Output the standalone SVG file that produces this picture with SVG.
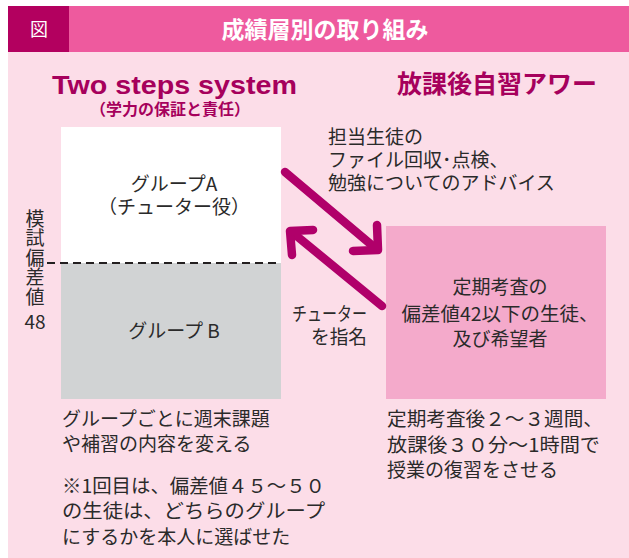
<svg xmlns="http://www.w3.org/2000/svg" width="629" height="558" viewBox="0 0 629 558">
<style>
.t{font-family:"Noto Sans CJK JP","Noto Sans",sans-serif;fill:#2a2a2a;font-size:19px}
.c{text-anchor:middle}
.h{font-family:"Noto Sans CJK JP","Noto Sans",sans-serif;font-weight:bold}
.arr{fill:none;stroke:#B0006A;stroke-width:8.5;stroke-linecap:round;stroke-linejoin:round}
</style>
<rect x="0" y="0" width="629" height="558" fill="#ffffff"/>
<g id="background">
<rect x="8" y="52" width="621" height="506" fill="#FCDDE8"/>
</g>
<g id="header">
<rect x="8" y="6" width="621" height="46" fill="#EE5A9E"/>
<rect x="8" y="6" width="61" height="46" fill="#B3005F"/>
<text x="39" y="36" class="c" font-family="Noto Sans CJK JP, sans-serif" font-size="18" fill="#ffffff">図</text>
<text x="325" y="38" class="h c" font-size="23" fill="#ffffff">成績層別の取り組み</text>
</g>
<g id="title-left">
<text x="52" y="94" font-family="Liberation Sans, Arial, sans-serif" font-weight="bold" font-size="26" fill="#A6005C" textLength="245" lengthAdjust="spacingAndGlyphs">Two steps system</text>
<text x="170" y="115" class="h c" font-size="16" fill="#A6005C">（学力の保証と責任）</text>
</g>
<g id="title-right">
<text x="497" y="93" class="h c" font-size="25" fill="#A6005C">放課後自習アワー</text>
</g>
<g id="group-box">
<rect x="61" y="127" width="220" height="136" fill="#ffffff"/>
<rect x="61" y="263" width="220" height="136" fill="#D1D3D4"/>
<text x="174" y="191" class="t c" font-size="18">グループA</text>
<text x="174" y="214" class="t c" font-size="18">（チューター役）</text>
<text x="174" y="338" class="t c" font-size="18">グループ B</text>
</g>
<g id="deviation-label">
<line x1="47" y1="263" x2="281" y2="263" stroke="#231F20" stroke-width="2" stroke-dasharray="8,5"/>
<text x="35" y="209" class="t" font-size="18" style="writing-mode:vertical-rl;letter-spacing:0.5px">模試偏差値</text>
<text x="35" y="329" class="t c" font-size="19">48</text>
</g>
<g id="self-study-box">
<rect x="386" y="226" width="220" height="173" fill="#F4AACB"/>
<text x="500" y="294" class="t c" font-size="19.5">定期考査の</text>
<text x="500" y="321" class="t c" font-size="19.5" textLength="197" lengthAdjust="spacingAndGlyphs">偏差値42以下の生徒、</text>
<text x="500" y="346" class="t c" font-size="19.5">及び希望者</text>
</g>
<g id="connectors">
<line class="arr" x1="285" y1="172" x2="374" y2="247"/>
<polyline class="arr" points="377,225 378,250 353,251"/>
<line class="arr" x1="382" y1="306" x2="293" y2="233"/>
<polyline class="arr" points="313,230 290,231 292,255"/>
</g>
<g id="connector-labels">
<text x="328" y="144" class="t" font-size="18.5">担当生徒の</text>
<text x="328" y="167" class="t" font-size="18.5">ファイル回収･点検、</text>
<text x="328" y="190" class="t" font-size="18.5">勉強についてのアドバイス</text>
<text x="292" y="321" class="t" font-size="18" textLength="75" lengthAdjust="spacingAndGlyphs">チューター</text>
<text x="311" y="344" class="t" font-size="18" textLength="56" lengthAdjust="spacingAndGlyphs">を指名</text>
</g>
<g id="notes-left">
<text x="62" y="426" class="t" font-size="19.5">グループごとに週末課題</text>
<text x="62" y="451" class="t" font-size="19.5">や補習の内容を変える</text>
<text x="62" y="493" class="t" font-size="19.5" textLength="263" lengthAdjust="spacingAndGlyphs">※1回目は、偏差値４５～５０</text>
<text x="62" y="518" class="t" font-size="19.5" textLength="263" lengthAdjust="spacingAndGlyphs">の生徒は、どちらのグループ</text>
<text x="62" y="544" class="t" font-size="19.5">にするかを本人に選ばせた</text>
</g>
<g id="notes-right">
<text x="387" y="426" class="t" font-size="19.5" textLength="216" lengthAdjust="spacingAndGlyphs">定期考査後２～３週間、</text>
<text x="387" y="452" class="t" font-size="19.5" textLength="213" lengthAdjust="spacingAndGlyphs">放課後３０分～1時間で</text>
<text x="387" y="477" class="t" font-size="19.5">授業の復習をさせる</text>
</g>
</svg>
